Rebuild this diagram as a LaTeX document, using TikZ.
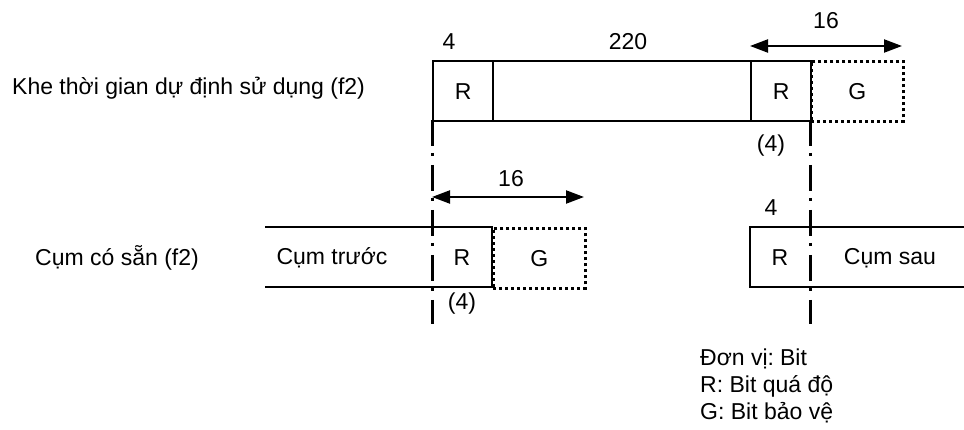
\documentclass[tikz,border=0pt]{standalone}
\usepackage{fontspec}
\setmainfont{Liberation Sans}
\usetikzlibrary{arrows.meta}
\begin{document}
\begin{tikzpicture}[x=1pt,y=-1pt,
  lbl/.style={font=\fontsize{23}{26}\selectfont, inner sep=0pt},
  solidbox/.style={draw, line width=2.2pt, minimum height=60pt, inner sep=0pt, anchor=north west},
  dotbox/.style={draw, line width=2.6pt, dash pattern=on 3pt off 3pt, minimum height=60pt, inner sep=0pt, anchor=north west},
  boundary/.style={line width=3pt, dash pattern=on 26pt off 7pt on 3pt off 9pt},
  dim/.style={line width=2.2pt, {Triangle[length=18pt,width=13pt]}-{Triangle[length=18pt,width=13pt]}}
]
\useasboundingbox (0,0) rectangle (964,430);

% ---- top row: planned slot
\node[lbl, anchor=west] (ttop) at (12,88) {Khe thời gian dự định sử dụng (f2)};
\node[dotbox, minimum width=92pt] (tG) at (810,60) {};
\node[lbl] at (tG.center) {G};
\node[solidbox, minimum width=60pt] (tR1) at (432,60) {};
\node[lbl] at (tR1.center) {R};
\node[solidbox, minimum width=258pt] (tM) at (492,60) {};
\node[solidbox, minimum width=60pt] (tR2) at (750,60) {};
\node[lbl] at (tR2.center) {R};

\node[lbl] (l4a) at (449,42) {4};
\node[lbl] (l220) at (628,42) {220};
\coordinate (a1l) at (750,46);
\coordinate (a1r) at (902,46);
\draw[dim] (a1l) -- (a1r);
\node[lbl] (l16a) at (826,21) {16};
\node[lbl] (l4b) at (771,146) {(4)};

% ---- bottom row: existing bursts
\node[lbl, anchor=west] (tbot) at (35,258) {Cụm có sẵn (f2)};
\coordinate (bl1) at (265,227);
\coordinate (bl2) at (265,287);
\coordinate (bR1) at (492,227);
\coordinate (bR2) at (492,287);
\node[dotbox, minimum width=92pt] (bG) at (492,227) {};
\draw[line width=2.2pt] (bl1) -- (bR1) -- (bR2) -- (bl2);
\node[lbl] (tprev) at (332,258) {Cụm trước};
\node[lbl] at (462,258) {R};
\node[lbl] at (bG.center) {G};
\coordinate (a2l) at (432,197);
\coordinate (a2r) at (584,197);
\draw[dim] (a2l) -- (a2r);
\node[lbl] (l16b) at (511,179) {16};
\node[lbl] (l4c) at (462,304) {(4)};

\coordinate (nr1) at (964,227);
\coordinate (nr2) at (964,287);
\coordinate (nl1) at (750,227);
\coordinate (nl2) at (750,287);
\draw[line width=2.2pt] (nr1) -- (nl1) -- (nl2) -- (nr2);
\node[lbl] at (780,258) {R};
\node[lbl] (tnext) at (890,258) {Cụm sau};
\node[lbl] (l4d) at (771,208) {4};

% ---- boundaries
\coordinate (v1t) at (432,120);
\coordinate (v1b) at (432,324);
\coordinate (v2t) at (810,120);
\coordinate (v2b) at (810,324);
\draw[boundary] (v1t) -- (v1b);
\draw[boundary] (v2t) -- (v2b);

% ---- legend
\node[lbl, anchor=west] (lg1) at (700,359) {Đơn v\symbol{"1ECB}:\kern-2.5pt{} Bit};
\node[lbl, anchor=west] (lg2) at (700,386) {R: Bit quá độ};
\node[lbl, anchor=west] (lg3) at (700,413) {G: Bit bảo vệ};
\end{tikzpicture}
\end{document}
